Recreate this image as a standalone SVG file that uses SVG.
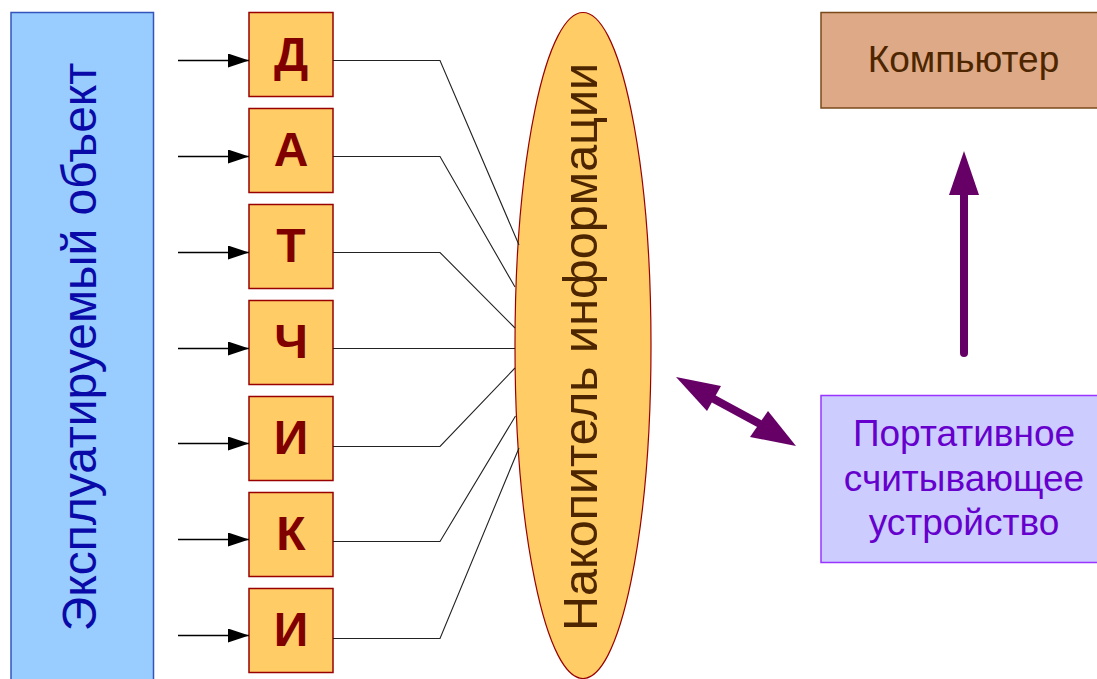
<svg xmlns="http://www.w3.org/2000/svg" width="1097" height="679" viewBox="0 0 1097 679">
<style>
.sensor rect{fill:#FFCC66;stroke:#990000;stroke-width:1.5}
.sensor text{font-family:"Liberation Sans",Arial,sans-serif;font-weight:bold;font-size:48px;fill:#800000;text-anchor:middle}
.in{stroke:#000;stroke-width:1.3;fill:none}
.out{stroke:#222;stroke-width:1.1;fill:none}
.big{font-family:"Liberation Sans",Arial,sans-serif;text-anchor:middle}
.purple{fill:#660066}
</style>
<defs>
<marker id="tri" viewBox="0 0 21 14" refX="21" refY="7" markerWidth="21" markerHeight="14" markerUnits="userSpaceOnUse" orient="auto">
<path d="M0,0 L21,7 L0,14 Z" fill="#000"/>
</marker>
</defs>
<g id="object">
<rect x="11" y="12.5" width="142.5" height="680" fill="#99CCFF" stroke="#3355BB" stroke-width="1.5"/>
<text class="big" transform="translate(96,347) rotate(-90)" font-size="48" fill="#0A0AA8">Эксплуатируемый объект</text>
</g>
<g id="sensor-1" class="sensor"><rect x="249" y="12.5" width="84" height="84"/><text x="291" y="71">Д</text></g>
<g id="sensor-2" class="sensor"><rect x="249" y="108.5" width="84" height="84"/><text x="291" y="166">А</text></g>
<g id="sensor-3" class="sensor"><rect x="249" y="204.5" width="84" height="84"/><text x="291" y="262">Т</text></g>
<g id="sensor-4" class="sensor"><rect x="249" y="300.5" width="84" height="84"/><text x="291" y="358">Ч</text></g>
<g id="sensor-5" class="sensor"><rect x="249" y="396.5" width="84" height="84"/><text x="291" y="454">И</text></g>
<g id="sensor-6" class="sensor"><rect x="249" y="492.5" width="84" height="84"/><text x="291" y="550">К</text></g>
<g id="sensor-7" class="sensor"><rect x="249" y="588.5" width="84" height="84"/><text x="291" y="646">И</text></g>
<g id="accumulator">
<ellipse cx="583" cy="345.5" rx="68" ry="333" fill="#FFCC66" stroke="#990000" stroke-width="1.2"/>
<text class="big" transform="translate(597,347) rotate(-90)" font-size="48.5" fill="#4D2600">Накопитель информации</text>
</g>
<g id="computer">
<rect x="821" y="12.5" width="290" height="95.5" fill="#DEA986" stroke="#7A4A1A" stroke-width="1.5"/>
<text class="big" x="963.5" y="72" font-size="37" fill="#4D2600">Компьютер</text>
</g>
<g id="reader">
<rect x="821" y="395.5" width="290" height="167" fill="#CCCCFF" stroke="#9933FF" stroke-width="1.5"/>
<text class="big" font-size="37" fill="#6600CC"><tspan x="964" y="446">Портативное</tspan><tspan x="964" y="491">считывающее</tspan><tspan x="964" y="535">устройство</tspan></text>
</g>
<g id="connectors">
<line class="in" x1="178" y1="60.5" x2="249" y2="60.5" marker-end="url(#tri)"/>
<line class="in" x1="178" y1="156.5" x2="249" y2="156.5" marker-end="url(#tri)"/>
<line class="in" x1="178" y1="252.5" x2="249" y2="252.5" marker-end="url(#tri)"/>
<line class="in" x1="178" y1="348.5" x2="249" y2="348.5" marker-end="url(#tri)"/>
<line class="in" x1="178" y1="443.5" x2="249" y2="443.5" marker-end="url(#tri)"/>
<line class="in" x1="178" y1="539.5" x2="249" y2="539.5" marker-end="url(#tri)"/>
<line class="in" x1="178" y1="635.5" x2="249" y2="635.5" marker-end="url(#tri)"/>
<polyline class="out" points="333,60.5 440,60.5 519,245"/>
<polyline class="out" points="333,156.5 440,156.5 515,287"/>
<polyline class="out" points="333,252.5 440,252.5 515,328"/>
<polyline class="out" points="333,348.5 515,348.5"/>
<polyline class="out" points="333,446.5 440,446.5 515,368"/>
<polyline class="out" points="333,541.5 440,541.5 515.5,416"/>
<polyline class="out" points="333,638.5 440,638.5 519,448"/>
<line x1="964" y1="353" x2="964" y2="192" stroke="#660066" stroke-width="8" stroke-linecap="round"/>
<path class="purple" d="M964,151 L979,195 L949,195 Z"/>
<line x1="712" y1="398" x2="760" y2="424" stroke="#660066" stroke-width="8"/>
<path class="purple" d="M676,377 L721,386 L707,411 Z"/>
<path class="purple" d="M796,446 L750,437 L768,411 Z"/>
</g>
</svg>
